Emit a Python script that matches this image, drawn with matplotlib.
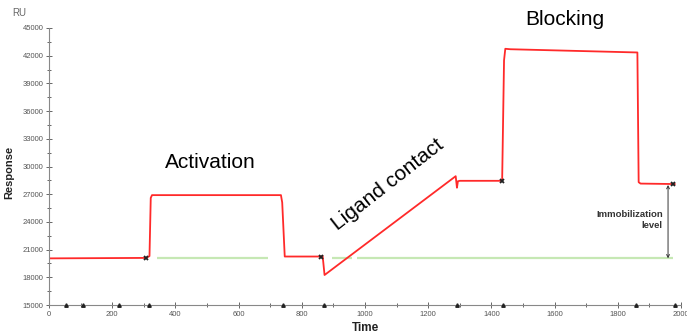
import matplotlib
matplotlib.use("Agg")
import matplotlib.pyplot as plt
from matplotlib.ticker import MultipleLocator

plt.rcParams['font.family'] = ['Liberation Sans', 'DejaVu Sans']

# Sensorgram (red trace)
time = [0, 308, 318, 322, 326, 734, 738, 746, 862, 866, 872, 1287, 1291, 1294,
        1300, 1434, 1440, 1444, 1460, 1862, 1866, 1872, 1980]
response = [20050, 20100, 20300, 26600, 26900, 26900, 26100, 20250, 20250, 20300,
            18250, 28950, 27700, 28400, 28450, 28450, 41500, 42750, 42700, 42350,
            28300, 28150, 28100]

# Baseline reference (green) segments
green_segments = [(342, 693), (895, 959), (975, 1975)]
green_level = 20050

# Event markers on the trace
event_t = [307, 861, 1434, 1975]
event_v = [20100, 20250, 28450, 28100]

# Injection markers along the time axis
inj_t = [53, 108, 222, 316, 739, 870, 1290, 1436, 1857, 1982]

fig = plt.figure(figsize=(6.87, 3.34), dpi=100)
ax = fig.add_axes([49/687, 29/334, 632/687, 277/334])

for a, b in green_segments:
    ax.plot([a, b], [green_level, green_level], color='#c6e8b4', lw=1.6,
            solid_capstyle='butt', zorder=1)
ax.plot(time, response, color='#ff2a2a', lw=1.3, zorder=2)
ax.plot(event_t, event_v, ls='none', marker='x', ms=3.5, mew=1.3,
        color='#222222', zorder=3)
ax.plot(inj_t, [15000] * len(inj_t), ls='none', marker='^', ms=2.5,
        color='#222222', clip_on=False, zorder=3)

ax.set_xlim(0, 2000)
ax.set_ylim(15000, 45000)
ax.xaxis.set_major_locator(MultipleLocator(200))
ax.xaxis.set_minor_locator(MultipleLocator(100))
ax.yaxis.set_major_locator(MultipleLocator(3000))
ax.yaxis.set_minor_locator(MultipleLocator(1500))
for s in ['top', 'right']:
    ax.spines[s].set_visible(False)
for s in ['left', 'bottom']:
    ax.spines[s].set_color('#888888')
    ax.spines[s].set_linewidth(0.8)
ax.tick_params(which='both', direction='inout', color='#666666', width=0.7,
               labelsize=5.5, labelcolor='#555555')
ax.tick_params(which='major', length=4, pad=2)
ax.tick_params(which='minor', length=2.5)

ax.set_xlabel('Time', fontsize=8.5, fontweight='bold', labelpad=3, color='#222222')
ax.set_ylabel('Response', fontsize=8, fontweight='bold', labelpad=2, color='#222222')
ax.yaxis.set_label_coords(-0.055, 0.48)
fig.text(12/687, 1 - 13/334, 'RU', fontsize=7, color='#666666', va='center')

ax.text(509, 30400, 'Activation', fontsize=15, ha='center', va='center')
ax.text(1633, 45900, 'Blocking', fontsize=15, ha='center', va='center', clip_on=False)
ax.text(1073, 28000, 'Ligand contact', fontsize=15, ha='center', va='center',
        rotation=38, rotation_mode='anchor')

ax.annotate('', xy=(1959, 20050), xytext=(1959, 28000),
            arrowprops=dict(arrowstyle='<->', color='#333333', lw=0.7,
                            shrinkA=0, shrinkB=0, mutation_scale=5))
ax.text(1942, 24200, 'Immobilization\nlevel', fontsize=6.8, fontweight='bold',
        ha='right', va='center', color='#333333', linespacing=1.25)

fig.savefig('out.png', dpi=100)
